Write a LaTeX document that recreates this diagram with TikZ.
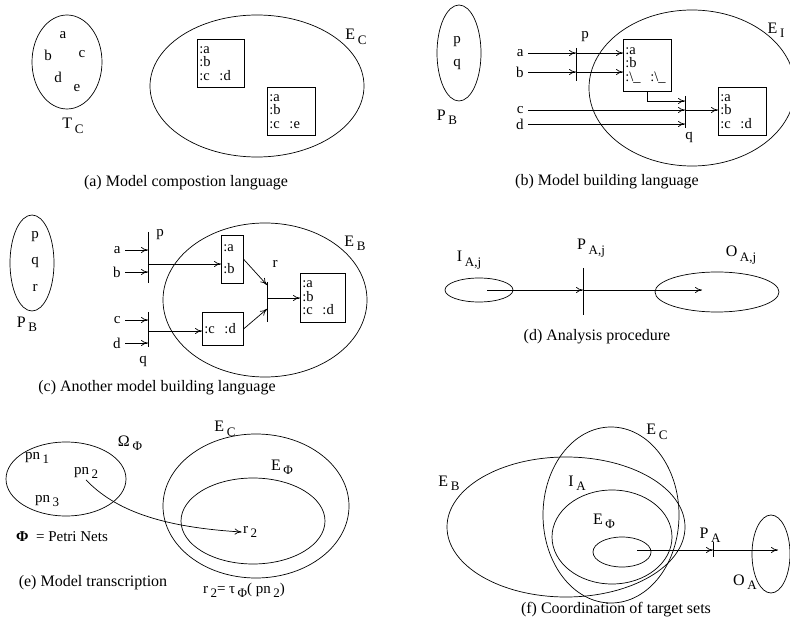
\documentclass[tikz,border=0pt]{standalone}
\usepackage{fontspec}
\setmainfont{Liberation Serif}
\usetikzlibrary{arrows.meta}
\newcommand{\subx}[1]{\,\raisebox{-0.6ex}{\fontsize{13}{13}\selectfont #1}}
\tikzset{
  lbl/.style={font=\fontsize{16}{18}\selectfont, inner sep=1pt},
  letter/.style={font=\fontsize{15}{17}\selectfont, inner sep=1pt},
  inlbl/.style={font=\fontsize{15}{17}\selectfont, inner xsep=4pt, inner ysep=1pt, anchor=east},
  capt/.style={font=\fontsize{16}{18}\selectfont, inner sep=1pt},
  listbox/.style={draw, align=left, anchor=north west, font=\fontsize{14.5}{13.5}\selectfont, inner xsep=2pt, inner ysep=1pt},
}
\begin{document}
\begin{tikzpicture}[x=1pt, y=-1pt, line width=0.7pt, >={To[length=7pt,width=6pt]}]
  \useasboundingbox (0,0) rectangle (790,620);
  \clip (0,0) rectangle (790,620);

  % 1. (a) composition
  \draw (67,62) ellipse (35 and 47);
  \node[letter] (ta) at (63,35) {a};
  \node[letter] (tb) at (48,55) {b};
  \node[letter] (tc) at (82,54) {c};
  \node[letter] (td) at (58,77) {d};
  \node[letter] (te) at (77,88) {e};
  \node[lbl] (tcl) at (73,126) {T\subx{C}};
  \draw (257,86) ellipse (107 and 71);
  \node[lbl] (ecl) at (356,37) {E\subx{C}};
  \node[listbox, text width=43pt, minimum height=48pt] (ba1) at (197,39) {:a\\:b\\:c\ \ :d};
  \node[listbox, text width=44pt, minimum height=48pt] (ba2) at (267,87) {:a\\:b\\:c\ \ :e};
  \node[capt] (capa) at (186,183) {(a) Model compostion language};

  % 2. (b) building
  \draw (459,53) ellipse (22 and 48);
  \node[letter] (bp) at (457,42) {p};
  \node[letter] (bq) at (457,64) {q};
  \node[lbl] (pbl) at (447,117) {P\subx{B}};
  \draw (692,88) ellipse (103 and 78);
  \node[lbl] (eil) at (776,30) {E\subx{I}};
  \node[listbox, text width=44pt, minimum height=52pt] (bb1) at (623,39) {:a\\:b\\:\textbackslash\_\ \ :\textbackslash\_};
  \node[listbox, text width=44pt, minimum height=48pt] (bb2) at (718,87) {:a\\:b\\:c\ \ :d};
  \node[inlbl] (ia) at (528,53) {a};
  \node[inlbl] (ib) at (528,72) {b};
  \node[inlbl] (ic) at (528,110) {c};
  \node[inlbl] (id) at (528,124) {d};
  \coordinate (pb1) at (576,48);
  \coordinate (pb2) at (576,81);
  \coordinate (qb1) at (685,96);
  \coordinate (qb2) at (685,128);
  \coordinate (qbj) at (685,101);
  \draw (pb1) -- (pb2);
  \draw (qb1) -- (qb2);
  \node[letter] (pbn) at (585,37) {p};
  \node[letter] (qbn) at (689,137) {q};
  \draw[->] (ia.east) -- (ia.east -| pb1);
  \draw[->] (ib.east) -- (ib.east -| pb1);
  \draw[->] (ia.east -| pb1) -- (ia.east -| bb1.west);
  \draw[->] (ib.east -| pb1) -- (ib.east -| bb1.west);
  \draw[->] (bb1.south) |- (qbj);
  \draw[->] (ic.east) -- (ic.east -| qb1);
  \draw[->] (id.east) -- (id.east -| qb1);
  \draw[->] (ic.east -| qb1) -- (ic.east -| bb2.west);
  \node[capt] (capb) at (607,182) {(b) Model building language};

  % 3. (c) another building
  \draw (32,263) ellipse (22 and 48);
  \node[letter] (cp) at (35,237) {p};
  \node[letter] (cq) at (35,262) {q};
  \node[letter] (cr) at (35,288) {r};
  \node[lbl] (pcl) at (27,324) {P\subx{B}};
  \draw (265,300) ellipse (102 and 77);
  \node[lbl] (ebl) at (355,243) {E\subx{B}};
  \node[listbox, text width=18pt, minimum height=48pt] (bc1) at (221,235) {:a\\[8pt]:b};
  \node[listbox, text width=37pt, minimum height=33pt] (bc2) at (202,312) {:c\ \ :d};
  \node[listbox, text width=41pt, minimum height=49pt] (bc3) at (300,273) {:a\\:b\\:c\ \ :d};
  \node[inlbl] (ca) at (125,250) {a};
  \node[inlbl] (cb) at (125,272) {b};
  \node[inlbl] (cc) at (125,320) {c};
  \node[inlbl] (cd) at (125,343) {d};
  \coordinate (pc1) at (148,232);
  \coordinate (pc2) at (148,283);
  \coordinate (qc1) at (148,312);
  \coordinate (qc2) at (148,347);
  \coordinate (rc1) at (267,282);
  \coordinate (rc2) at (267,322);
  \coordinate (pcout) at (148,264);
  \coordinate (qcout) at (148,331);
  \coordinate (rcin1) at (267,285);
  \coordinate (rcin2) at (267,309);
  \coordinate (rcout) at (267,298);
  \draw (pc1) -- (pc2);
  \draw (qc1) -- (qc2);
  \draw (rc1) -- (rc2);
  \node[letter] (pcn) at (160,235) {p};
  \node[letter] (qcn) at (143,361) {q};
  \node[letter] (rcn) at (275,264) {r};
  \draw[->] (ca.east) -- (ca.east -| pc1);
  \draw[->] (cb.east) -- (cb.east -| pc1);
  \draw[->] (cc.east) -- (cc.east -| qc1);
  \draw[->] (cd.east) -- (cd.east -| qc1);
  \draw[->] (pcout) -- (pcout -| bc1.west);
  \draw[->] (qcout) -- (qcout -| bc2.west);
  \draw[->] (bc1.east) -- (rcin1);
  \draw[->] (bc2.east) -- (rcin2);
  \draw[->] (rcout) -- (rcout -| bc3.west);
  \node[capt] (capc) at (157,388) {(c) Another model building language};

  % 4. (d) analysis
  \draw (479,290) ellipse (34 and 12);
  \draw (717,292) ellipse (62 and 20);
  \node[lbl] (ial) at (469,260) {I\subx{A,j}};
  \node[lbl] (pal) at (591,248) {P\subx{A,j}};
  \node[lbl] (oal) at (741,255) {O\subx{A,j}};
  \coordinate (iin) at (487,290);
  \coordinate (pd1) at (583,268);
  \coordinate (pd2) at (583,315);
  \coordinate (oin) at (702,290);
  \draw (pd1) -- (pd2);
  \draw[->] (iin) -- (iin -| pd1);
  \draw[->] (iin -| pd1) -- (oin);
  \node[capt] (capd) at (597,337) {(d) Analysis procedure};

  % 5. (e) transcription
  \draw (66,479) ellipse (60 and 37);
  \node[lbl] (oml) at (130,443) {Ω\subx{Φ}};
  \node[letter] (pn1) at (37,458) {pn\subx{1}};
  \node[letter] (pn2) at (86,473) {pn\subx{2}};
  \node[letter] (pn3) at (47,501) {pn\subx{3}};
  \draw (256,506) ellipse (93 and 72);
  \node[lbl] (ecl2) at (225,429) {E\subx{C}};
  \draw (253,521) ellipse (72 and 43);
  \node[lbl] (efl) at (282,467) {E\subx{Φ}};
  \node[letter] (r2) at (250,532) {r\subx{2}};
  \draw[->] (pn2.south) .. controls (115,510) and (160,527) .. (r2.west);
  \node[letter] (petri) at (62,537) {{\bfseries Φ}\ \ = Petri Nets};
  \node[letter] (tau) at (244,590) {r\subx{2}= τ\subx{Φ}( pn\subx{2})};
  \node[capt] (cape) at (93,583) {(e) Model transcription};

  % 6. (f) coordination
  \draw (566,527) ellipse (119 and 70);
  \node[lbl] (ebl2) at (449,483) {E\subx{B}};
  \draw (611,515) ellipse (68 and 88);
  \node[lbl] (ecl3) at (657,432) {E\subx{C}};
  \draw (612,537) ellipse (60 and 47);
  \node[lbl] (ial2) at (577,483) {I\subx{A}};
  \draw (622,552) ellipse (29 and 15);
  \node[lbl] (efl2) at (604,521) {E\subx{Φ}};
  \draw (771,554) ellipse (19 and 39);
  \node[lbl] (pal2) at (710,535) {P\subx{A}};
  \node[lbl] (oal2) at (745,582) {O\subx{A}};
  \coordinate (fin) at (637,550);
  \coordinate (pf1) at (713,542);
  \coordinate (pf2) at (713,557);
  \coordinate (fout) at (778,550);
  \draw (pf1) -- (pf2);
  \draw[->] (fin) -- (fin -| pf1);
  \draw[->] (fin -| pf1) -- (fout);
  \node[capt] (capf) at (616,610) {(f) Coordination of target sets};
\end{tikzpicture}
\end{document}
